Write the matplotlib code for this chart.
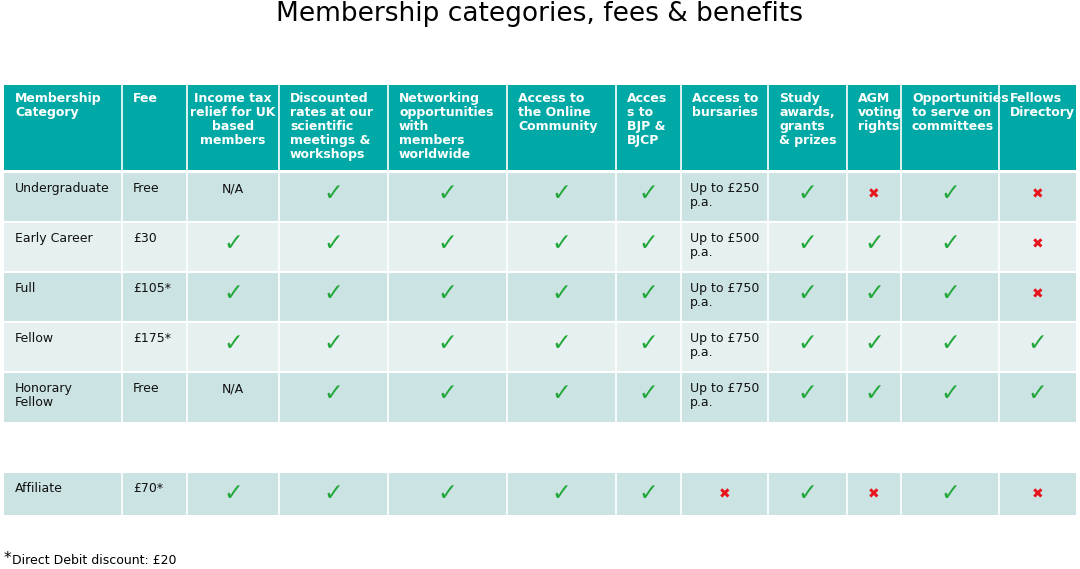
import matplotlib
matplotlib.use("Agg")
import matplotlib.pyplot as plt
from matplotlib.patches import Rectangle

TITLE = "Membership categories, fees & benefits"
HEADERS = [
    "Membership\nCategory", "Fee", "Income tax\nrelief for UK\nbased\nmembers",
    "Discounted\nrates at our\nscientific\nmeetings &\nworkshops",
    "Networking\nopportunities\nwith\nmembers\nworldwide",
    "Access to\nthe Online\nCommunity", "Acces\ns to\nBJP &\nBJCP",
    "Access to\nbursaries", "Study\nawards,\ngrants\n& prizes",
    "AGM\nvoting\nrights", "Opportunities\nto serve on\ncommittees", "Fellows\nDirectory",
]
CATEGORIES = ["Undergraduate", "Early Career", "Full", "Fellow", "Honorary\nFellow", "Affiliate"]
FEES = ["Free", "£30", "£105*", "£175*", "Free", "£70*"]
# Y = yes (tick), N = no (cross), other strings are shown as text
BENEFITS = [
    ["N/A", "Y", "Y", "Y", "Y", "Up to £250\np.a.", "Y", "N", "Y", "N"],
    ["Y", "Y", "Y", "Y", "Y", "Up to £500\np.a.", "Y", "Y", "Y", "N"],
    ["Y", "Y", "Y", "Y", "Y", "Up to £750\np.a.", "Y", "Y", "Y", "N"],
    ["Y", "Y", "Y", "Y", "Y", "Up to £750\np.a.", "Y", "Y", "Y", "Y"],
    ["N/A", "Y", "Y", "Y", "Y", "Up to £750\np.a.", "Y", "Y", "Y", "Y"],
    ["Y", "Y", "Y", "Y", "Y", "N", "Y", "N", "Y", "N"],
]
FOOTNOTE = "Direct Debit discount: £20"

# layout (pixels)
COL_X = [4, 122, 187, 279, 388, 507, 616, 681, 768, 847, 901, 999, 1076]
ROW_Y = [(172, 222), (222, 272), (272, 322), (322, 372), (372, 422), (472, 515)]
ROW_COL = ["#cce3e3", "#e6f0f0", "#cce3e3", "#e6f0f0", "#cce3e3", "#cce3e3"]
TEAL = "#00a9a5"
GREEN = "#22a83a"
RED = "#e8141c"
FONT = "DejaVu Sans"

fig = plt.figure(figsize=(10.8, 5.69), dpi=100)
ax = fig.add_axes([0, 0, 1, 1])
ax.set_xlim(0, 1080)
ax.set_ylim(569, 0)
ax.axis("off")

ax.text(540, 14, TITLE, ha="center", va="center", fontsize=19, family=FONT)

# header
ax.add_patch(Rectangle((COL_X[0], 85), COL_X[-1] - COL_X[0], 85, color=TEAL, lw=0))
for j, h in enumerate(HEADERS):
    if j == 2:
        ax.text((COL_X[j] + COL_X[j + 1]) / 2, 92, h, ha="center", va="top", fontsize=9,
                color="white", weight="bold", family=FONT, linespacing=1.1)
    else:
        ax.text(COL_X[j] + 11, 92, h, ha="left", va="top", fontsize=9,
                color="white", weight="bold", family=FONT, linespacing=1.1)

# body
for i, (y0, y1) in enumerate(ROW_Y):
    ax.add_patch(Rectangle((COL_X[0], y0), COL_X[-1] - COL_X[0], y1 - y0,
                           color=ROW_COL[i], lw=0))
    ax.plot([COL_X[0], COL_X[-1]], [y0, y0], color="white", lw=1.5)
    ax.text(COL_X[0] + 11, y0 + 10, CATEGORIES[i], ha="left", va="top",
            fontsize=9, family=FONT, color="#111111", linespacing=1.1)
    ax.text(COL_X[1] + 11, y0 + 10, FEES[i], ha="left", va="top",
            fontsize=9, family=FONT, color="#111111")
    for k, v in enumerate(BENEFITS[i]):
        xc = (COL_X[k + 2] + COL_X[k + 3]) / 2
        if v == "Y":
            ax.text(xc, y0 + 21, "\u2713", ha="center", va="center", fontsize=17,
                    color=GREEN, family=FONT)
        elif v == "N":
            ax.text(xc, y0 + 22, "\u2716", ha="center", va="center", fontsize=10,
                    color=RED, family=FONT)
        elif v == "N/A":
            ax.text(xc, y0 + 10, v, ha="center", va="top", fontsize=9,
                    family=FONT, color="#111111")
        else:
            ax.text(COL_X[k + 2] + 9, y0 + 10, v, ha="left", va="top", fontsize=9,
                    family=FONT, color="#111111", linespacing=1.1)

# vertical separators
for x in COL_X[1:-1]:
    ax.plot([x, x], [85, 170], color="white", lw=1.2)
    for y0, y1 in ROW_Y:
        ax.plot([x, x], [y0, y1], color="white", lw=1.2)

ax.text(4, 559, "*", ha="left", va="center", fontsize=11, family=FONT)
ax.text(12, 560, FOOTNOTE, ha="left", va="center", fontsize=9, family=FONT)

fig.savefig("out.png", dpi=100)
